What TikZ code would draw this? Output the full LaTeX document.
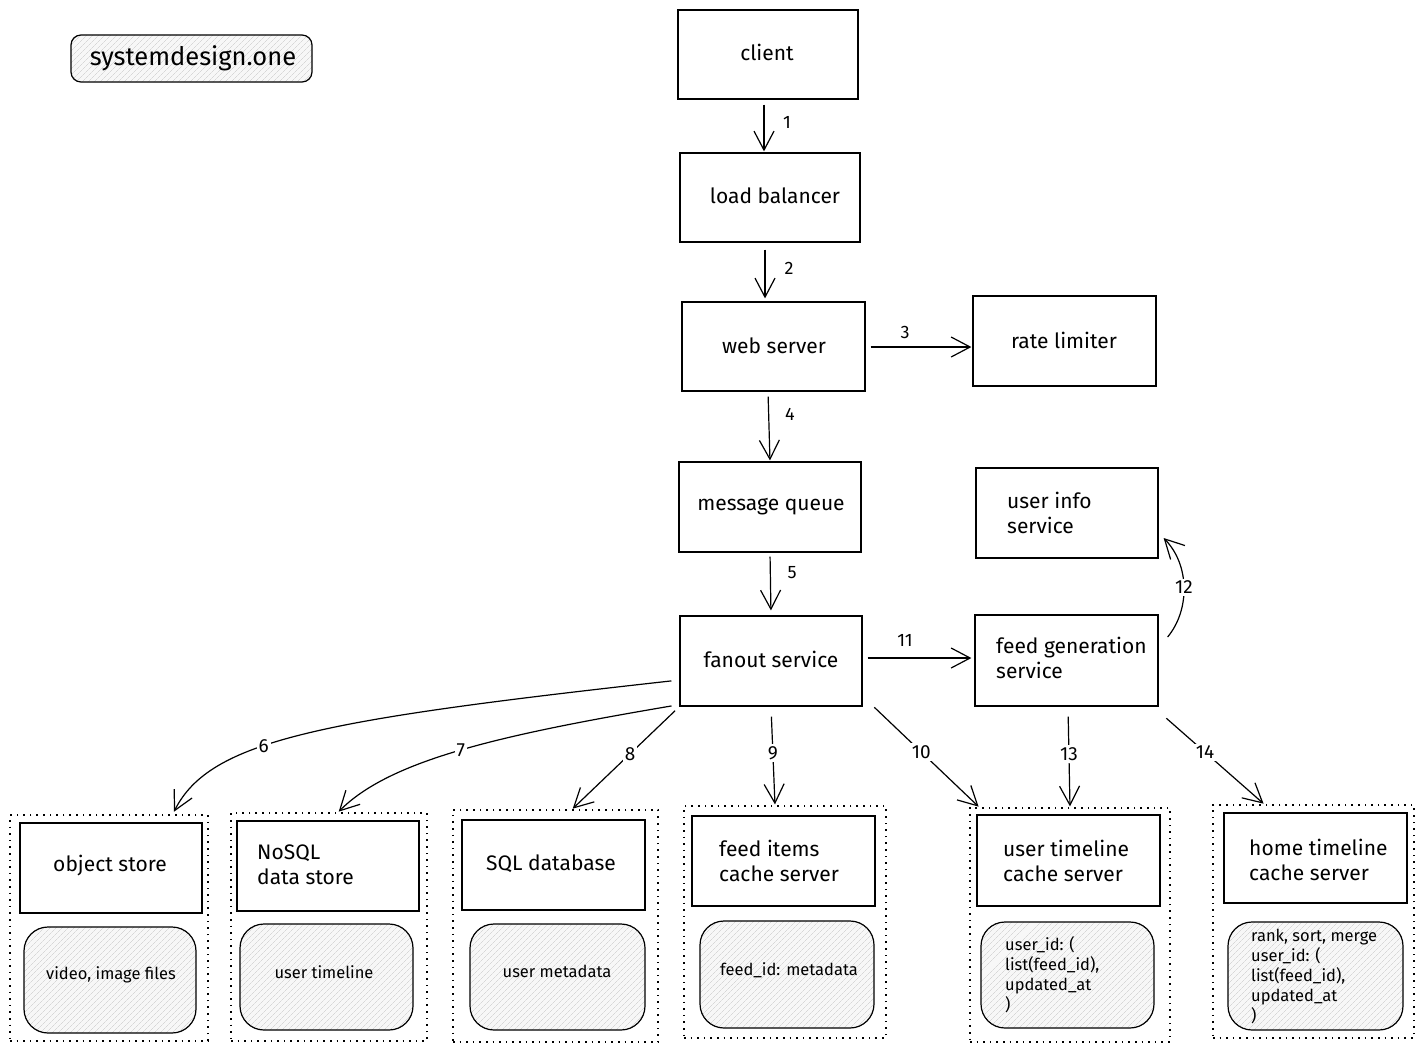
\documentclass[tikz,border=0pt]{standalone}
\usepackage{fontspec}
\setmainfont{Fira Sans}
\usetikzlibrary{arrows.meta,patterns.meta,calc}
\begin{document}
\begin{tikzpicture}[x=1pt,y=-1pt,
  box/.style={draw=black,line width=1.2pt,rectangle,inner sep=0pt},
  cont/.style={draw=black,line width=1.3pt,dash pattern=on 1.6pt off 5pt,rectangle,inner sep=0pt},
  hatch/.style={draw=black,line width=1.2pt,rounded corners=24pt,rectangle,inner sep=0pt,
    preaction={fill=gray!6},pattern={Lines[angle=45,distance=4pt,line width=0.4pt]},pattern color=gray!45},
  txt/.style={font=\fontsize{21}{25}\selectfont,align=left,inner sep=0pt},
  stxt/.style={font=\fontsize{16.5}{20}\selectfont,align=left,inner sep=0pt},
  arr/.style={draw=black,line width=1.2pt,-{Straight Barb[length=19pt,width=20pt,line width=1.2pt]}},
  lab/.style={font=\fontsize{18}{20}\selectfont,inner sep=2pt},
  wlab/.style={font=\fontsize{19}{20}\selectfont,fill=white,inner sep=2pt}]
\useasboundingbox (0,0) rectangle (1424,1053);
\fill[white] (0,0) rectangle (1424,1053);
% logo
\node[draw=black,line width=1.2pt,rounded corners=10pt,inner sep=0pt,minimum width=241pt,minimum height=47pt,
  preaction={fill=gray!6},pattern={Lines[angle=45,distance=4pt,line width=0.4pt]},pattern color=gray!45] (logo) at (191.5,58.5) {};
\node[font=\fontsize{25.5}{28}\selectfont] (logot) at (193,58) {systemdesign.one};
% main boxes
\node[box,minimum width=180pt,minimum height=89pt] (client) at (768,54.5) {};
\node[txt] (clientt) at (767,52) {client};
\node[box,minimum width=180pt,minimum height=89pt] (lb) at (770,197.5) {};
\node[txt] (lbt) at (775,196) {load balancer};
\node[box,minimum width=183pt,minimum height=89pt] (web) at (773.5,346.5) {};
\node[txt] (webt) at (774,346) {web server};
\node[box,minimum width=183pt,minimum height=90pt] (rate) at (1064.5,341) {};
\node[txt] (ratet) at (1064,340) {rate limiter};
\node[box,minimum width=182pt,minimum height=90pt] (mq) at (770,507) {};
\node[txt] (mqt) at (771,507) {message queue};
\node[box,minimum width=182pt,minimum height=90pt] (uinfo) at (1067,513) {};
\node[txt,anchor=west] (uinfot) at (1007,513) {user info\\service};
\node[box,minimum width=182pt,minimum height=90pt] (fanout) at (771,661) {};
\node[txt] (fanoutt) at (771,659) {fanout service};
\node[box,minimum width=183pt,minimum height=91pt] (feedgen) at (1066.5,660.5) {};
\node[txt,anchor=west] (feedgent) at (996,658) {feed generation\\service};
% containers
\node[cont,minimum width=198pt,minimum height=226pt] (c1) at (109,928) {};
\node[cont,minimum width=196pt,minimum height=228pt] (c2) at (329,927) {};
\node[cont,minimum width=205pt,minimum height=232pt] (c3) at (555.5,926) {};
\node[cont,minimum width=202pt,minimum height=232pt] (c4) at (785,922) {};
\node[cont,minimum width=200pt,minimum height=234pt] (c5) at (1070,925) {};
\node[cont,minimum width=201pt,minimum height=233pt] (c6) at (1313.5,921.5) {};
% inner boxes
\node[box,minimum width=182pt,minimum height=90pt] (b1) at (111,868) {};
\node[txt] (b1t) at (110,866) {object store};
\node[box,minimum width=182pt,minimum height=90pt] (b2) at (328,866) {};
\node[txt,anchor=west] (b2t) at (257,864.5) {NoSQL\\data store};
\node[box,minimum width=183pt,minimum height=90pt] (b3) at (553.5,865) {};
\node[txt] (b3t) at (551,864) {SQL database};
\node[box,minimum width=183pt,minimum height=90pt] (b4) at (783.5,861) {};
\node[txt,anchor=west] (b4t) at (719,860.5) {feed items\\cache server};
\node[box,minimum width=183pt,minimum height=91pt] (b5) at (1068.5,860.5) {};
\node[txt,anchor=west] (b5t) at (1003,860.5) {user timeline\\cache server};
\node[box,minimum width=183pt,minimum height=90pt] (b6) at (1315.5,858) {};
\node[txt,anchor=west] (b6t) at (1249,859.5) {home timeline\\cache server};
% rounded hatched
\node[hatch,minimum width=172pt,minimum height=106pt] (r1) at (110,980) {};
\node[stxt] (r1t) at (111,975) {video, image files};
\node[hatch,minimum width=173pt,minimum height=106pt] (r2) at (326.5,977) {};
\node[stxt] (r2t) at (324,972) {user timeline};
\node[hatch,minimum width=175pt,minimum height=106pt] (r3) at (557.5,977) {};
\node[stxt] (r3t) at (557,971) {user metadata};
\node[hatch,minimum width=174pt,minimum height=107pt] (r4) at (787,974.5) {};
\node[stxt] (r4t) at (789,970) {feed\_id: metadata};
\node[hatch,minimum width=173pt,minimum height=106pt] (r5) at (1067.5,975) {};
\node[stxt,anchor=west] (r5t) at (1005,975) {user\_id: (\\list(feed\_id),\\updated\_at\\)};
\node[hatch,minimum width=175pt,minimum height=108pt] (r6) at (1315.5,976) {};
\node[stxt,anchor=west] (r6t) at (1251,976) {rank, sort, merge\\user\_id: (\\list(feed\_id),\\updated\_at\\)};
% connectors
\draw[arr,shorten <=5pt,shorten >=1pt] ([xshift=-4pt]client.south) -- ([xshift=-6pt]lb.north);
\node[lab] (l1) at (787,122) {1};
\draw[arr,shorten <=7pt,shorten >=3pt] ([xshift=-5pt]lb.south) -- ([xshift=-8.5pt]web.north);
\node[lab] (l2) at (789,268) {2};
\draw[arr,shorten <=5pt,shorten >=1pt] ([yshift=-0.5pt]web.east) -- ([yshift=-6pt]rate.west);
\node[lab] (l3) at (905,332) {3};
\draw[arr,shorten <=5pt,shorten >=1pt] ([xshift=-5.5pt]web.south) -- (mq.north);
\node[lab] (l4) at (790,414) {4};
\draw[arr,shorten <=4pt,shorten >=5pt] (mq.south) -- (fanout.north);
\node[lab] (l5) at (792,573) {5};
\draw[arr,shorten <=8pt,shorten >=3pt] ([yshift=-19pt]fanout.west) .. controls (320,720) and (210,740) .. node[wlab,pos=0.6] (l6) {6} ([xshift=-36pt]c1.north east);
\draw[arr,shorten <=8pt,shorten >=1pt] ([yshift=2pt]fanout.south west) .. controls (500,735) and (390,760) .. node[wlab,pos=0.5] (l7) {7} ([xshift=9pt]c2.north);
\draw[arr,shorten <=6pt,shorten >=1pt] (fanout.south west) -- node[wlab,pos=0.46] (l8) {8} ([xshift=16.5pt]c3.north);
\draw[arr,shorten <=10pt,shorten >=1pt] (fanout.south) -- node[wlab,pos=0.47] (l9) {9} ([xshift=-10pt]c4.north);
\draw[arr,shorten <=1pt,shorten >=1pt] ([xshift=11pt]fanout.south east) -- node[wlab,pos=0.45] (l10) {10} ([xshift=10pt]c5.north west);
\draw[arr,shorten <=5pt,shorten >=3pt] ([yshift=3pt]fanout.east) -- ([yshift=2.5pt]feedgen.west);
\node[lab] (l11) at (905,640) {11};
\draw[arr] ([xshift=9pt,yshift=23.5pt]feedgen.east) .. controls (1190,610) and (1190,565) .. node[wlab,pos=0.5] (l12) {12} ([xshift=5pt,yshift=-25pt]uinfo.east);
\draw[arr,shorten <=10pt,shorten >=1pt] ([xshift=1.5pt]feedgen.south) -- node[wlab,pos=0.47] (l13) {13} (c5.north);
\draw[arr,shorten <=1pt,shorten >=1pt] ([xshift=7pt,yshift=-11pt]feedgen.south east) -- node[wlab,pos=0.4] (l14) {14} ([xshift=52pt]c6.north west);
\end{tikzpicture}
\end{document}
